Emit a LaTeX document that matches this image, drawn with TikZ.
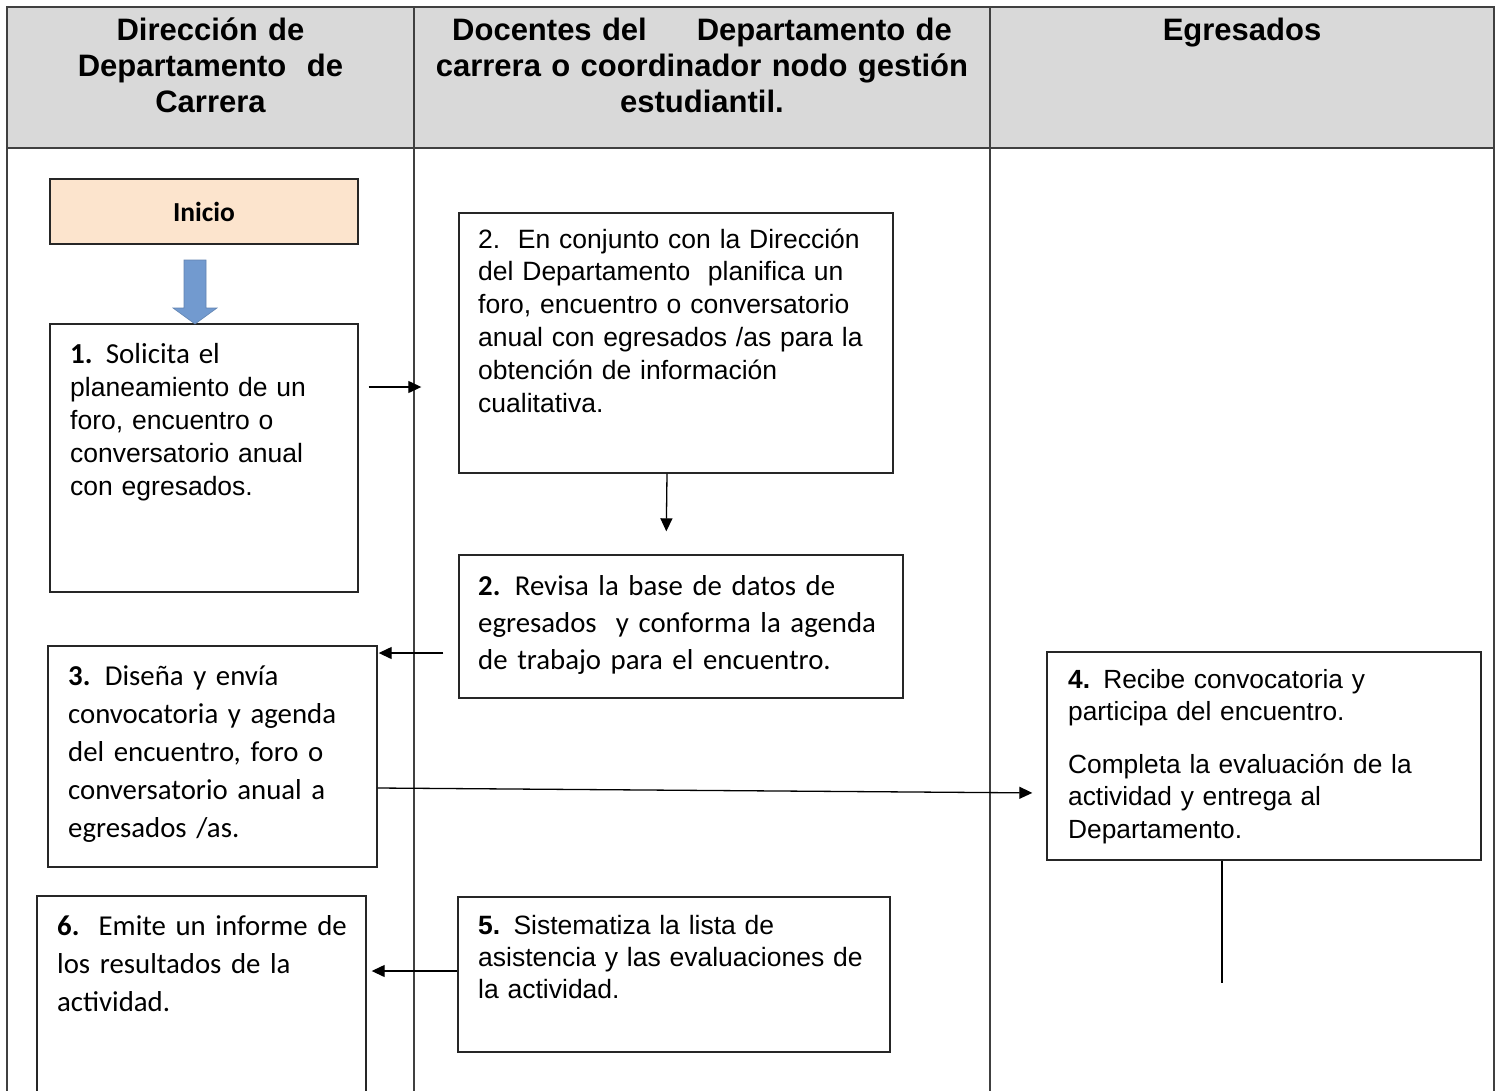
\documentclass[tikz,border=0pt]{standalone}
\usepackage{fontspec}
\setmainfont{Liberation Sans}
\newfontfamily\calfont{Carlito}
\usetikzlibrary{arrows.meta}
\definecolor{hdrgray}{HTML}{D9D9D9}
\definecolor{inifill}{HTML}{FCE4CD}
\definecolor{blockblue}{HTML}{729ACF}
\definecolor{rulegray}{HTML}{404040}
\tikzset{
  lane/.style={draw=rulegray, line width=1.5pt},
  box/.style={draw=black!85, line width=1.4pt, inner sep=0pt},
  hdr/.style={anchor=base, inner sep=0pt, align=center, font=\bfseries\fontsize{31}{36}\selectfont},
  arialtxt/.style={anchor=base west, inner sep=0pt, align=left, text width=500pt, font=\fontsize{26.5}{32.8}\selectfont},
  calibtxt/.style={anchor=base west, inner sep=0pt, align=left, text width=500pt, font=\calfont\fontsize{28.8}{38}\selectfont},
  arr/.style={line width=1.3pt, -{Triangle[length=13pt,width=12pt]}},
}
\begin{document}
\begin{tikzpicture}[x=1pt, y=-1pt]
  \useasboundingbox (0,0) rectangle (1496,1090);
  % table
  \fill[hdrgray] (7,7) rectangle (1494,148);
  \draw[lane] (7,1095) -- (7,7) -- (1494,7) -- (1494,1095);
  \draw[lane] (7,148) -- (1494,148);
  \draw[lane] (414,7) -- (414,1095);
  \draw[lane] (990,7) -- (990,1095);
  \node[hdr, text width=400pt] (hA) at (210.5,40) {Direcci\'on de\\Departamento\ \ de\\Carrera};
  \node[hdr, text width=570pt] (hB) at (702,40) {Docentes del\hspace{50pt}Departamento de\\carrera o coordinador nodo gesti\'on\\estudiantil.};
  \node[hdr, text width=490pt] (hC) at (1242,40) {Egresados};
  % boxes
  \node[box, fill=inifill, minimum width=308pt, minimum height=65pt, font=\calfont\bfseries\fontsize{27.5}{33}\selectfont] (ini) at (204,211.5) {Inicio};
  \node[box, minimum width=308pt, minimum height=268pt] (s1) at (204,458) {};
  \node[box, minimum width=434pt, minimum height=260pt] (s2a) at (676,343) {};
  \node[box, minimum width=444pt, minimum height=143pt] (s2b) at (681,626.5) {};
  \node[box, minimum width=329pt, minimum height=221pt] (s3) at (212.5,756.5) {};
  \node[box, minimum width=434pt, minimum height=208pt] (s4) at (1264,756) {};
  \node[box, minimum width=432pt, minimum height=155pt] (s5) at (674,974.5) {};
  \node[box, minimum width=329pt, minimum height=234pt] (s6) at (201.5,1013) {};
  % texts
  \node[arialtxt, font=\fontsize{26.5}{33}\selectfont] (t1) at (70,363) {{\calfont\fontsize{29}{33}\selectfont\textbf{1.} Solicita el}\\planeamiento de un\\foro, encuentro o\\conversatorio anual\\con egresados.};
  \node[arialtxt] (t2a) at (478,248) {2.\ \ En conjunto con la Direcci\'on\\del Departamento\ \ planifica un\\foro, encuentro o conversatorio\\anual con egresados /as para la\\obtenci\'on de informaci\'on\\cualitativa.};
  \node[calibtxt, font=\calfont\fontsize{28.8}{37}\selectfont] (t2b) at (478,595) {\textbf{2.} Revisa la base de datos de\\egresados\ \ y conforma la agenda\\de trabajo para el encuentro.};
  \node[calibtxt, font=\calfont\fontsize{28.8}{38.2}\selectfont] (t3) at (68,685) {\textbf{3.} Dise\~na y env\'ia\\convocatoria y agenda\\del encuentro, foro o\\conversatorio anual a\\egresados /as.};
  \node[arialtxt, font=\fontsize{26.3}{32.5}\selectfont] (t4) at (1068,688) {\textbf{4.} Recibe convocatoria y\\participa del encuentro.\\[20pt]Completa la evaluaci\'on de la\\actividad y entrega al\\Departamento.};
  \node[arialtxt, font=\fontsize{26.5}{32}\selectfont] (t5) at (478,934) {\textbf{5.} Sistematiza la lista de\\asistencia y las evaluaciones de\\la actividad.};
  \node[calibtxt] (t6) at (57,935) {\textbf{6.}\ \ Emite un informe de\\los resultados de la\\actividad.};
  % block arrow
  \filldraw[fill=blockblue, draw=blockblue!85!black, line width=0.6pt] (184,260) -- (206,260) -- (206,308) -- (217,308) -- (195,324) -- (173,308) -- (184,308) -- cycle;
  % connectors
  \draw[arr, shorten <=10pt, shorten >=37pt] ([yshift=71pt]s1.east) -- ([yshift=-44pt]s2a.west);
  \draw[arr, shorten >=23pt] ([xshift=-9pt]s2a.south) -- ([xshift=-15pt]s2b.north);
  \draw[arr, shorten <=15pt, shorten >=1pt] ([yshift=-26.5pt]s2b.west) -- ([yshift=103.5pt]s3.east);
  \draw[arr, shorten >=14pt] ([yshift=-31.5pt]s3.east) -- ([yshift=-37pt]s4.west);
  \coordinate (tail) at (1222,983);
  \draw[line width=1.3pt] ([xshift=-42pt]s4.south) -- (tail);
  \draw[arr, shorten >=5pt] ([yshift=3.5pt]s5.west) -- ([yshift=42pt]s6.east);
\end{tikzpicture}
\end{document}
